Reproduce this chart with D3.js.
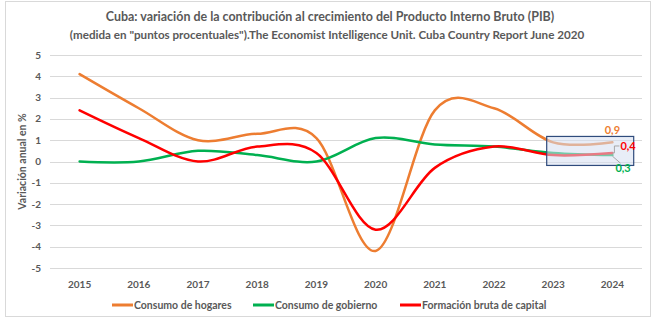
<!DOCTYPE html>
<html lang="es">
<head>
<meta charset="UTF-8">
<title>Cuba: contribución al crecimiento del PIB</title>
<script src="https://d3js.org/d3.v7.min.js"></script>
<style>
  body { margin: 0; background: #fff; }
  text { font-family: Lato, "Noto Sans", sans-serif; font-weight: bold; fill: #595959; }
</style>
</head>
<body>
<script>
// Años y contribuciones (puntos porcentuales)
const years = ["2015", "2016", "2017", "2018", "2019", "2020", "2021", "2022", "2023", "2024"];
const hogares = [4.1, 2.5, 1.0, 1.3, 1.1, -4.2, 2.4, 2.5, 0.9, 0.9];
const gobierno = [0.0, 0.0, 0.5, 0.3, 0.0, 1.1, 0.8, 0.7, 0.4, 0.3];
const capital = [2.4, 1.1, 0.0, 0.7, 0.4, -3.2, -0.3, 0.7, 0.3, 0.4];
const yTicks = [-5, -4, -3, -2, -1, 0, 1, 2, 3, 4, 5];

const seriesNames = ["Consumo de hogares", "Consumo de gobierno", "Formación bruta de capital"];
const seriesColors = ["#ed7d31", "#00b050", "#ff0000"];
const seriesValues = [hogares, gobierno, capital];

const width = 656, height = 322;
const svg = d3.select("body").append("svg").attr("width", width).attr("height", height);

// marco exterior
svg.append("rect")
  .attr("x", 5.5).attr("y", 1.5).attr("width", 645).attr("height", 315)
  .attr("fill", "#fff").attr("stroke", "#d9d9d9");

const x = d3.scaleBand().domain(years).range([50, 642]);
const y = d3.scaleLinear().domain([-5, 5]).range([268, 55]);
const cx = d => x(d) + x.bandwidth() / 2;

// líneas de cuadrícula
svg.append("g").selectAll("line").data(yTicks).join("line")
  .attr("x1", 50).attr("x2", 642)
  .attr("y1", d => Math.round(y(d)) + 0.5).attr("y2", d => Math.round(y(d)) + 0.5)
  .attr("stroke", "#d9d9d9");

// etiquetas del eje Y
svg.append("g").selectAll("text").data(yTicks).join("text")
  .attr("x", 41).attr("y", d => y(d)).attr("dy", "0.35em")
  .attr("text-anchor", "end").attr("font-size", 10)
  .text(d => d);

// etiquetas del eje X
svg.append("g").selectAll("text").data(years).join("text")
  .attr("x", cx).attr("y", 288)
  .attr("text-anchor", "middle").attr("font-size", 10)
  .text(d => d);

// título del eje Y
svg.append("text")
  .attr("transform", `translate(26,${y(0)}) rotate(-90)`)
  .attr("text-anchor", "middle").attr("font-size", 10.5)
  .text("Variación anual en %");

// título en dos líneas, ajustado al ancho deseado
function fitWidth(sel, target) {
  const w = sel.node().getComputedTextLength();
  const fs = parseFloat(sel.attr("font-size"));
  sel.attr("font-size", (fs * target / w).toFixed(2));
}
const t1 = svg.append("text").attr("x", 330).attr("y", 21).attr("text-anchor", "middle")
  .attr("font-size", 12)
  .text("Cuba: variación de la contribución al crecimiento del Producto Interno Bruto (PIB)");
fitWidth(t1, 449);
const t2 = svg.append("text").attr("x", 327).attr("y", 39).attr("text-anchor", "middle")
  .attr("font-size", 12)
  .text("(medida en \"puntos procentuales\").The Economist Intelligence Unit. Cuba Country Report June 2020");
fitWidth(t2, 515);

// series suavizadas
const line = d3.line()
  .x((d, i) => cx(years[i]))
  .y(d => y(d))
  .curve(d3.curveCardinal.tension(0));

svg.append("g").selectAll("path").data(seriesValues).join("path")
  .attr("d", d => line(d))
  .attr("fill", "none")
  .attr("stroke", (d, i) => seriesColors[i])
  .attr("stroke-width", 2.5)
  .attr("stroke-linecap", "round");

// recuadro que resalta 2023-2024
const last = years.length - 1;
svg.append("rect")
  .attr("x", cx(years[last - 1]) - 6.5).attr("y", y(1.2) + 0.5)
  .attr("width", 87).attr("height", 29)
  .attr("fill", "rgba(214,222,240,0.55)")
  .attr("stroke", "#2f4b7c").attr("stroke-width", 1.2);

// etiquetas de datos del último año
const xe = cx(years[last]);
svg.append("path")
  .attr("d", `M${xe},${y(capital[last])} H${xe + 2} V${y(capital[last]) - 7} H${xe + 7}`)
  .attr("fill", "none").attr("stroke", "#a6a6a6");
svg.append("path")
  .attr("d", `M${xe},${y(gobierno[last]) + 1} L${xe + 8},${y(gobierno[last]) + 8}`)
  .attr("fill", "none").attr("stroke", "#a6a6a6");

const fmt = v => d3.format(".1f")(v).replace(".", ",");
svg.append("text").attr("x", xe).attr("y", y(hogares[last]) - 8)
  .attr("text-anchor", "middle").attr("font-size", 11)
  .style("fill", seriesColors[0]).text(fmt(hogares[last]));
svg.append("text").attr("x", xe + 8).attr("y", y(capital[last]) - 3)
  .attr("font-size", 11)
  .style("fill", seriesColors[2]).text(fmt(capital[last]));
svg.append("text").attr("x", xe + 3).attr("y", y(gobierno[last]) + 17)
  .attr("font-size", 11)
  .style("fill", seriesColors[1]).text(fmt(gobierno[last]));

// leyenda
const legendX = [112, 253, 400];
const legend = svg.append("g").selectAll("g").data(seriesNames).join("g")
  .attr("transform", (d, i) => `translate(${legendX[i]},305)`);
legend.append("line")
  .attr("x1", 0).attr("x2", 21).attr("stroke-width", 3)
  .attr("stroke", (d, i) => seriesColors[i]);
legend.append("text")
  .attr("x", 22).attr("dy", "0.35em").attr("font-size", 10.5)
  .text(d => d);
</script>
</body>
</html>
